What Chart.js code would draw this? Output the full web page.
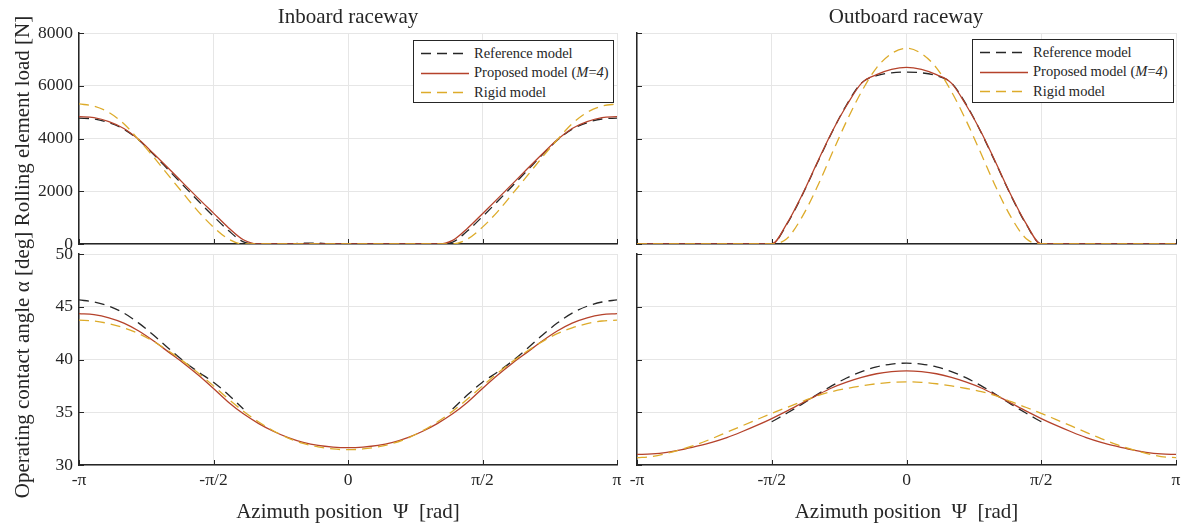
<!DOCTYPE html>
<html>
<head>
<meta charset="utf-8">
<script src="https://cdn.jsdelivr.net/npm/chart.js@4.4.1/dist/chart.umd.min.js"></script>
<style>
    body { margin: 0; background: #fff; }
    #wrap { position: relative; width: 1188px; height: 525px; overflow: hidden;
        font-family: "Liberation Serif", "Times New Roman", serif; color: #262626; }
    canvas { position: absolute; }
    .ytitle { position: absolute; font-size: 21px; white-space: nowrap;
        transform: translate(-50%, -50%) rotate(-90deg); }
    .ptitle { position: absolute; font-size: 21px; white-space: nowrap; transform: translate(-50%, -50%); }
    .legend { position: absolute; border: 1px solid #262626; background: #fff;
        box-sizing: border-box; font-size: 14.5px; }
    .legend .row { position: absolute; left: 0; height: 20px; display: flex; align-items: center; white-space: nowrap; }
    .legend svg { margin-left: 7px; margin-right: 5px; }
</style>
</head>
<body>
<div id="wrap">
    <canvas id="inLoad" width="628" height="256" style="left:0;top:0"></canvas>
    <canvas id="outLoad" width="564" height="256" style="left:624px;top:0"></canvas>
    <canvas id="inAngle" width="628" height="281" style="left:0;top:244px"></canvas>
    <canvas id="outAngle" width="564" height="281" style="left:624px;top:244px"></canvas>
    <div class="ptitle" style="left:348px;top:16px">Inboard raceway</div>
    <div class="ptitle" style="left:906px;top:16px">Outboard raceway</div>
    <div class="ytitle" style="left:22px;top:121px">Rolling element load [N]</div>
    <div class="ytitle" style="left:22px;top:365px">Operating contact angle α [deg]</div>
    <div class="legend" id="legIn" style="left:413px;top:40px;width:201px;height:63px"></div>
    <div class="legend" id="legOut" style="left:972px;top:39px;width:202px;height:64px"></div>
</div>
<script>
// Azimuth positions in degrees (shown as multiples of pi)
const psi = [-180, -170, -160, -150, -140, -130, -120, -110, -100, -90, -80, -70, -60, -50, -40, -30, -20, -10, 0,
    10, 20, 30, 40, 50, 60, 70, 80, 90, 100, 110, 120, 130, 140, 150, 160, 170, 180];
const xTickText = { '-180': '-π', '-90': '-π/2', '0': '0', '90': 'π/2', '180': 'π' };

// Rolling element load [N], inboard raceway
const inLoadRef = [4770, 4740, 4600, 4350, 3940, 3390, 2800, 2210, 1620, 1050, 510, 80, 0, 0, 0, 30, 30, 0, 0,
    0, 0, 0, 0, 0, 0, 70, 500, 1040, 1610, 2200, 2790, 3380, 3930, 4350, 4600, 4740, 4770];
const inLoadProp = [4830, 4790, 4640, 4380, 3960, 3420, 2860, 2290, 1720, 1170, 620, 160, 0, 0, 0, 0, 0, 0, 0,
    0, 0, 0, 0, 0, 0, 140, 600, 1150, 1710, 2280, 2850, 3410, 3950, 4380, 4640, 4790, 4830];
const inLoadRigid = [5310, 5230, 4990, 4560, 3950, 3290, 2590, 1900, 1220, 640, 190, 0, 0, 0, 0, 0, 0, 0, 0,
    0, 0, 0, 0, 0, 0, 0, 190, 640, 1220, 1900, 2590, 3290, 3950, 4560, 4990, 5230, 5310];

// Rolling element load [N], outboard raceway
const outLoadRef = [0, 0, 0, 0, 0, 0, 0, 0, 0, 0, 740, 1810, 3020, 4210, 5280, 6110, 6380, 6490, 6520,
    6490, 6380, 6110, 5280, 4210, 3020, 1810, 740, 0, 0, 0, 0, 0, 0, 0, 0, 0, 0];
const outLoadProp = [0, 0, 0, 0, 0, 0, 0, 0, 0, 0, 760, 1830, 3040, 4230, 5250, 6100, 6420, 6620, 6700,
    6620, 6420, 6100, 5250, 4230, 3040, 1830, 760, 0, 0, 0, 0, 0, 0, 0, 0, 0, 0];
const outLoadRigid = [0, 0, 0, 0, 0, 0, 0, 0, 0, 0, 200, 1000, 2120, 3400, 4660, 5780, 6680, 7220, 7420,
    7220, 6680, 5780, 4660, 3400, 2120, 1000, 200, 0, 0, 0, 0, 0, 0, 0, 0, 0, 0];

// Operating contact angle [deg], inboard raceway (reference only where loaded)
const inAngleRef = [45.65, 45.45, 45.05, 44.4, 43.45, 42.3, 41.05, 39.85, 38.8, 37.85, 36.65, 35.3,
    null, null, null, null, null, null, null, null, null, null, null, null, null,
    35.3, 36.65, 37.85, 38.8, 39.85, 41.05, 42.3, 43.45, 44.4, 45.05, 45.45, 45.65];
const inAngleProp = [44.35, 44.25, 43.95, 43.45, 42.7, 41.75, 40.7, 39.65, 38.5, 37.25, 35.95, 34.85, 33.95, 33.2,
    32.6, 32.15, 31.85, 31.7, 31.65, 31.7, 31.85, 32.15, 32.6, 33.2, 33.95, 34.85, 35.95, 37.25, 38.5, 39.65, 40.7,
    41.75, 42.7, 43.45, 43.95, 44.25, 44.35];
const inAngleRigid = [43.73, 43.65, 43.4, 43.0, 42.45, 41.7, 40.8, 39.8, 38.7, 37.5, 36.25, 35.1, 34.1, 33.25,
    32.55, 32.05, 31.72, 31.52, 31.45, 31.52, 31.72, 32.05, 32.55, 33.25, 34.1, 35.1, 36.25, 37.5, 38.7, 39.8, 40.8,
    41.7, 42.45, 43.0, 43.4, 43.65, 43.73];

// Operating contact angle [deg], outboard raceway
const outAngleRef = [null, null, null, null, null, null, null, null, null,
    34.1, 34.9, 35.75, 36.65, 37.5, 38.25, 38.85, 39.3, 39.57, 39.65, 39.57, 39.3, 38.85, 38.25, 37.5, 36.65, 35.75,
    34.9, 34.1, null, null, null, null, null, null, null, null, null];
const outAngleProp = [31.0, 31.05, 31.2, 31.45, 31.78, 32.15, 32.6, 33.15, 33.75, 34.4, 35.1, 35.85, 36.6, 37.3,
    37.85, 38.3, 38.65, 38.85, 38.92, 38.85, 38.65, 38.3, 37.85, 37.3, 36.6, 35.85, 35.1, 34.4, 33.75, 33.15, 32.6,
    32.15, 31.78, 31.45, 31.2, 31.05, 31.0];
const outAngleRigid = [30.7, 30.8, 31.1, 31.5, 31.95, 32.5, 33.1, 33.7, 34.3, 34.9, 35.45, 36.0, 36.55, 36.95,
    37.25, 37.5, 37.7, 37.83, 37.88, 37.83, 37.7, 37.5, 37.25, 36.95, 36.55, 36.0, 35.45, 34.9, 34.3, 33.7, 33.1,
    32.5, 31.95, 31.5, 31.1, 30.8, 30.7];

const fontFamily = '"Liberation Serif", "Times New Roman", serif';
const textColor = '#262626';
const colRef = '#262626', colProp = '#b5422b', colRigid = '#ddab2a';

// MATLAB-like inward tick marks on left and bottom axes
const innerTicks = {
    id: 'innerTicks',
    beforeDatasetsDraw(chart) {
        const { ctx, chartArea: a, scales: { x, y } } = chart;
        ctx.save();
        ctx.strokeStyle = textColor;
        ctx.lineWidth = 1;
        ctx.beginPath();
        x.ticks.forEach(t => {
            const px = Math.round(x.getPixelForValue(t.value)) + 0.5;
            ctx.moveTo(px, a.bottom);
            ctx.lineTo(px, a.bottom - 5);
        });
        y.ticks.forEach(t => {
            const py = Math.round(y.getPixelForValue(t.value)) + 0.5;
            ctx.moveTo(a.left, py);
            ctx.lineTo(a.left + 5, py);
        });
        ctx.stroke();
        ctx.restore();
    }
};

function points(values) {
    return psi.map((p, i) => ({ x: p, y: values[i] }));
}

function makeDatasets(ref, prop, rigid) {
    return [
        { label: 'Reference model', data: points(ref), borderColor: colRef, borderDash: [10, 6], order: 3 },
        { label: 'Proposed model (M=4)', data: points(prop), borderColor: colProp, borderDash: [], order: 2 },
        { label: 'Rigid model', data: points(rigid), borderColor: colRigid, borderDash: [10, 6], order: 1 }
    ];
}

function makeChart(id, datasets, o) {
    return new Chart(document.getElementById(id), {
        type: 'line',
        data: { datasets: datasets },
        plugins: [innerTicks],
        options: {
            responsive: false,
            animation: false,
            layout: { padding: { top: o.padTop, right: o.padRight, bottom: 0, left: 0 } },
            elements: {
                line: { borderWidth: 1.3, cubicInterpolationMode: 'monotone', fill: false },
                point: { radius: 0 }
            },
            plugins: {
                legend: { display: false },
                tooltip: { enabled: false }
            },
            scales: {
                x: {
                    type: 'linear',
                    min: -180,
                    max: 180,
                    ticks: {
                        display: o.xLabels,
                        stepSize: 90,
                        autoSkip: false,
                        maxRotation: 0,
                        padding: 5,
                        color: textColor,
                        font: { family: fontFamily, size: 17.5 },
                        callback: v => xTickText[v]
                    },
                    grid: { color: '#e6e6e6', lineWidth: 1, drawTicks: false },
                    border: { color: textColor, width: 1.5 },
                    title: {
                        display: o.xLabels,
                        text: 'Azimuth position  Ψ  [rad]',
                        color: textColor,
                        font: { family: fontFamily, size: 21 },
                        padding: { top: 0, bottom: 0 }
                    },
                    afterFit: s => { s.height = o.xHeight; s.paddingLeft = 0; s.paddingRight = 0; }
                },
                y: {
                    min: o.yMin,
                    max: o.yMax,
                    ticks: {
                        display: o.yLabels,
                        stepSize: o.yStep,
                        padding: 6,
                        color: textColor,
                        font: { family: fontFamily, size: 17.5 },
                        callback: v => String(v)
                    },
                    grid: { color: '#e6e6e6', lineWidth: 1, drawTicks: false },
                    border: { color: textColor, width: 1.5 },
                    afterFit: s => { s.width = o.yWidth; s.paddingTop = 0; s.paddingBottom = 0; }
                }
            }
        }
    });
}

// HTML legend so that the model order M can be set in italics
function htmlLegend(chart, box) {
    chart.data.datasets.forEach((ds, i) => {
        const row = document.createElement('div');
        row.className = 'row';
        row.style.top = (2 + i * 19.7) + 'px';
        const dash = ds.borderDash.length ? ds.borderDash.join(',') : 'none';
        row.innerHTML = '<svg width="48" height="20"><line x1="0" y1="10.5" x2="48" y2="10.5" stroke="' +
            ds.borderColor + '" stroke-width="1.3" stroke-dasharray="' + dash + '"/></svg>' +
            '<span>' + ds.label.replace('M=4', '<i>M</i>=<i>4</i>') + '</span>';
        box.appendChild(row);
    });
}

Chart.defaults.font.family = fontFamily;

const inLoadChart = makeChart('inLoad', makeDatasets(inLoadRef, inLoadProp, inLoadRigid), {
    padTop: 33, padRight: 11, xHeight: 12, yWidth: 79,
    xLabels: false, yLabels: true, yMin: 0, yMax: 8000, yStep: 2000
});
const outLoadChart = makeChart('outLoad', makeDatasets(outLoadRef, outLoadProp, outLoadRigid), {
    padTop: 33, padRight: 12, xHeight: 12, yWidth: 13,
    xLabels: false, yLabels: false, yMin: 0, yMax: 8000, yStep: 2000
});
makeChart('inAngle', makeDatasets(inAngleRef, inAngleProp, inAngleRigid), {
    padTop: 10, padRight: 11, xHeight: 60, yWidth: 79,
    xLabels: true, yLabels: true, yMin: 30, yMax: 50, yStep: 5
});
makeChart('outAngle', makeDatasets(outAngleRef, outAngleProp, outAngleRigid), {
    padTop: 10, padRight: 12, xHeight: 60, yWidth: 13,
    xLabels: true, yLabels: false, yMin: 30, yMax: 50, yStep: 5
});

htmlLegend(inLoadChart, document.getElementById('legIn'));
htmlLegend(outLoadChart, document.getElementById('legOut'));
</script>
</body>
</html>
